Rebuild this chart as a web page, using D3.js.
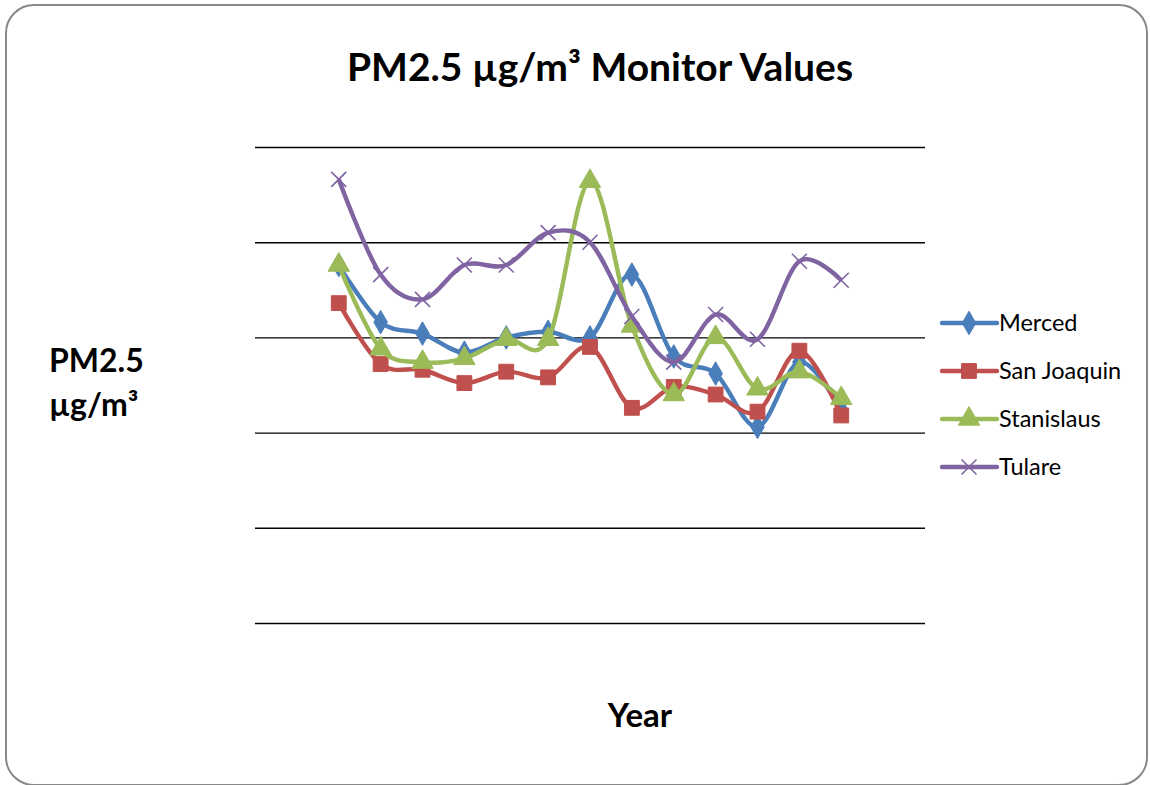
<!DOCTYPE html>
<html>
<head>
<meta charset="utf-8">
<script src="https://cdn.jsdelivr.net/npm/d3@7"></script>
<style>
  body { margin: 0; background: #fff; }
  svg { display: block; font-family: "Lato", "Open Sans", sans-serif; }
</style>
</head>
<body>
<svg width="1150" height="785"></svg>
<script>
  // data (no tick labels shown on the original)
  const years = [1999, 2000, 2001, 2002, 2003, 2004, 2005, 2006, 2007, 2008, 2009, 2010, 2011];
  const merced = [18.8, 15.8, 15.2, 14.2, 15.0, 15.3, 15.0, 18.3, 14.0, 13.1, 10.3, 13.7, 11.2];
  const sanJoaquin = [16.8, 13.6, 13.3, 12.6, 13.2, 12.9, 14.5, 11.3, 12.4, 12.0, 11.1, 14.3, 10.9];
  const stanislaus = [18.8, 14.4, 13.7, 13.9, 14.9, 14.9, 23.2, 15.6, 12.0, 15.0, 12.3, 13.2, 11.8];
  const tulare = [23.3, 18.3, 17.0, 18.8, 18.8, 20.5, 20.0, 16.1, 13.7, 16.2, 14.9, 19.0, 18.0];
  const gridValues = [0, 5, 10, 15, 20, 25];

  const series = [
    { name: "Merced", values: merced, color: "#4A7EBB", marker: "diamond" },
    { name: "San Joaquin", values: sanJoaquin, color: "#C0504D", marker: "square" },
    { name: "Stanislaus", values: stanislaus, color: "#9BBB59", marker: "triangle" },
    { name: "Tulare", values: tulare, color: "#8064A2", marker: "cross" }
  ];

  const svg = d3.select("svg");

  // outer rounded frame
  svg.append("rect")
     .attr("x", 6).attr("y", 5)
     .attr("width", 1141).attr("height", 780)
     .attr("rx", 28).attr("ry", 28)
     .style("fill", "#fff")
     .style("stroke", "#888")
     .style("stroke-width", 2);

  const plot = { left: 255, right: 925, top: 147, bottom: 623 };

  const x = d3.scaleLinear()
              .domain([1997, 2013])
              .range([plot.left, plot.right]);
  const y = d3.scaleLinear()
              .domain([0, 25])
              .range([plot.bottom, plot.top]);

  // gridlines
  svg.append("g")
     .attr("transform", `translate(${plot.left},0)`)
     .call(d3.axisLeft(y).tickValues(gridValues).tickSize(-(plot.right - plot.left)).tickFormat(""))
     .call(g => g.select(".domain").remove())
     .call(g => g.selectAll(".tick line").style("stroke", "#000").style("stroke-width", 1.4));

  const line = d3.line()
                 .x((d, i) => x(years[i]))
                 .y(d => y(d))
                 .curve(d3.curveCatmullRom.alpha(0));

  function markerPath(type) {
    if (type === "diamond") return d3.symbol(d3.symbolDiamond, 160)();
    if (type === "square") return d3.symbol(d3.symbolSquare, 220)();
    if (type === "triangle") return d3.symbol(d3.symbolTriangle, 200)();
    return "M-7.5,-7.5L7.5,7.5M-7.5,7.5L7.5,-7.5";
  }

  function drawMarker(g, s) {
    const p = g.append("path").attr("d", markerPath(s.marker));
    if (s.marker === "cross") {
      p.style("fill", "none").style("stroke", s.color).style("stroke-width", 1.6);
    } else {
      p.style("fill", s.color).style("stroke", s.color).style("stroke-width", 1);
    }
  }

  series.forEach(s => {
    svg.append("path")
       .datum(s.values)
       .attr("d", line)
       .style("fill", "none")
       .style("stroke", s.color)
       .style("stroke-width", 4.4)
       .style("stroke-linejoin", "round");

    s.values.forEach((v, i) => {
      const g = svg.append("g")
                   .attr("transform", `translate(${x(years[i])},${y(v)})`);
      drawMarker(g, s);
    });
  });

  // legend
  const legend = svg.append("g").attr("transform", "translate(940,323)");
  series.forEach((s, i) => {
    const row = legend.append("g").attr("transform", `translate(0,${i * 48})`);
    row.append("line")
       .attr("x1", 2).attr("x2", 57)
       .style("stroke", s.color)
       .style("stroke-width", 4.4)
       .style("stroke-linecap", "round");
    const m = row.append("g").attr("transform", "translate(29,0)");
    drawMarker(m, s);
    row.append("text")
       .attr("x", 59).attr("y", 8)
       .style("font-size", "23.5px")
       .style("fill", "#000")
       .text(s.name);
  });

  // titles
  svg.append("text")
     .attr("x", 600).attr("y", 81)
     .attr("text-anchor", "middle")
     .style("font-size", "39px")
     .style("font-weight", "bold")
     .text("PM2.5 µg/m³ Monitor Values");

  svg.append("text")
     .attr("x", 49).attr("y", 372)
     .style("font-size", "32px")
     .style("font-weight", "bold")
     .text("PM2.5");
  svg.append("text")
     .attr("x", 49).attr("y", 416)
     .style("font-size", "32px")
     .style("font-weight", "bold")
     .text("µg/m³");

  svg.append("text")
     .attr("x", 640).attr("y", 727)
     .attr("text-anchor", "middle")
     .style("font-size", "33px")
     .style("font-weight", "bold")
     .text("Year");
</script>
</body>
</html>
